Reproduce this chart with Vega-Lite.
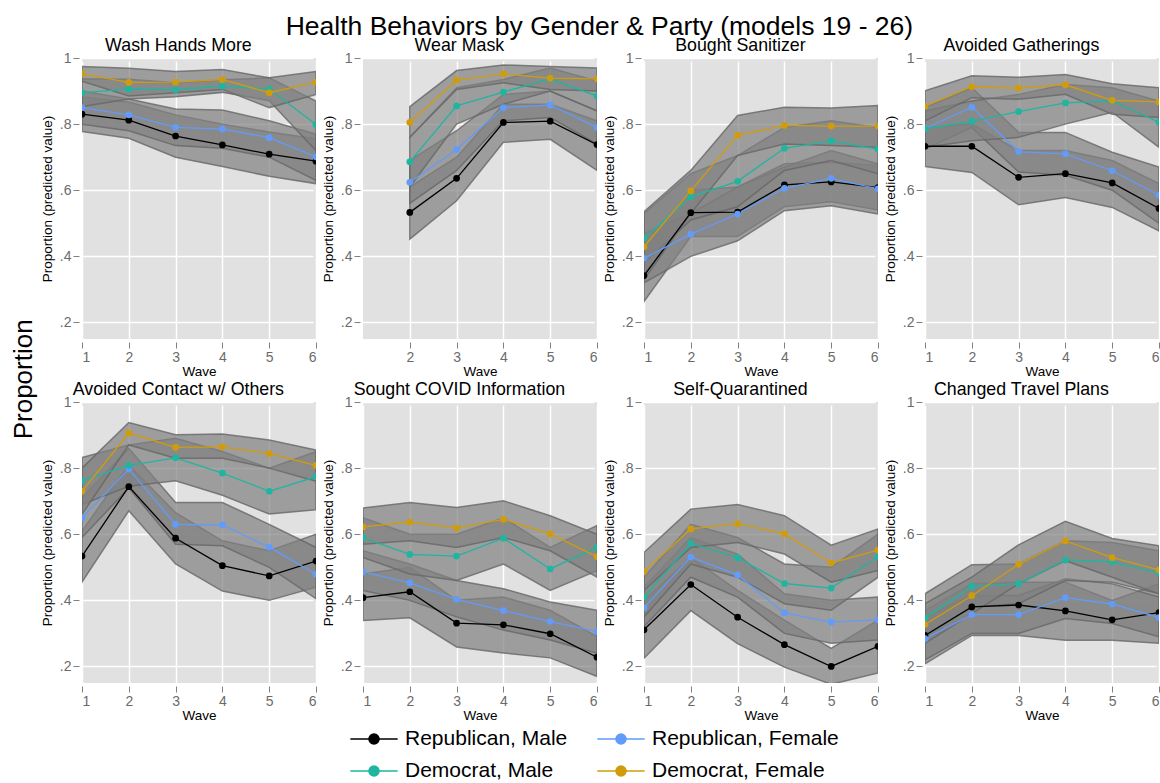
{
  "$schema": "https://vega.github.io/schema/vega-lite/v6.json",
  "padding": {"left": 11, "top": 13, "right": 0, "bottom": 0},
  "title": {"text": "Health Behaviors by Gender & Party (models 19 - 26)", "fontSize": 26.5, "anchor": "middle", "offset": -3, "dx": 14},
  "data": {"values": [
    {"p":"Wash Hands More","g":"Republican, Male","w":1,"e":0.830,"l":0.778,"h":0.882},
    {"p":"Wash Hands More","g":"Republican, Male","w":2,"e":0.812,"l":0.757,"h":0.867},
    {"p":"Wash Hands More","g":"Republican, Male","w":3,"e":0.764,"l":0.700,"h":0.828},
    {"p":"Wash Hands More","g":"Republican, Male","w":4,"e":0.737,"l":0.672,"h":0.800},
    {"p":"Wash Hands More","g":"Republican, Male","w":5,"e":0.709,"l":0.642,"h":0.776},
    {"p":"Wash Hands More","g":"Republican, Male","w":6,"e":0.688,"l":0.620,"h":0.756},
    {"p":"Wash Hands More","g":"Republican, Female","w":1,"e":0.850,"l":0.800,"h":0.900},
    {"p":"Wash Hands More","g":"Republican, Female","w":2,"e":0.828,"l":0.780,"h":0.876},
    {"p":"Wash Hands More","g":"Republican, Female","w":3,"e":0.790,"l":0.735,"h":0.846},
    {"p":"Wash Hands More","g":"Republican, Female","w":4,"e":0.785,"l":0.727,"h":0.843},
    {"p":"Wash Hands More","g":"Republican, Female","w":5,"e":0.759,"l":0.700,"h":0.810},
    {"p":"Wash Hands More","g":"Republican, Female","w":6,"e":0.701,"l":0.630,"h":0.770},
    {"p":"Wash Hands More","g":"Democrat, Male","w":1,"e":0.895,"l":0.853,"h":0.937},
    {"p":"Wash Hands More","g":"Democrat, Male","w":2,"e":0.906,"l":0.876,"h":0.936},
    {"p":"Wash Hands More","g":"Democrat, Male","w":3,"e":0.904,"l":0.883,"h":0.925},
    {"p":"Wash Hands More","g":"Democrat, Male","w":4,"e":0.915,"l":0.896,"h":0.934},
    {"p":"Wash Hands More","g":"Democrat, Male","w":5,"e":0.906,"l":0.871,"h":0.940},
    {"p":"Wash Hands More","g":"Democrat, Male","w":6,"e":0.799,"l":0.720,"h":0.870},
    {"p":"Wash Hands More","g":"Democrat, Female","w":1,"e":0.952,"l":0.930,"h":0.974},
    {"p":"Wash Hands More","g":"Democrat, Female","w":2,"e":0.926,"l":0.885,"h":0.969},
    {"p":"Wash Hands More","g":"Democrat, Female","w":3,"e":0.927,"l":0.895,"h":0.959},
    {"p":"Wash Hands More","g":"Democrat, Female","w":4,"e":0.935,"l":0.905,"h":0.965},
    {"p":"Wash Hands More","g":"Democrat, Female","w":5,"e":0.895,"l":0.850,"h":0.940},
    {"p":"Wash Hands More","g":"Democrat, Female","w":6,"e":0.927,"l":0.890,"h":0.959},

    {"p":"Wear Mask","g":"Republican, Male","w":2,"e":0.533,"l":0.452,"h":0.610},
    {"p":"Wear Mask","g":"Republican, Male","w":3,"e":0.636,"l":0.568,"h":0.700},
    {"p":"Wear Mask","g":"Republican, Male","w":4,"e":0.805,"l":0.745,"h":0.860},
    {"p":"Wear Mask","g":"Republican, Male","w":5,"e":0.809,"l":0.754,"h":0.860},
    {"p":"Wear Mask","g":"Republican, Male","w":6,"e":0.738,"l":0.660,"h":0.810},
    {"p":"Wear Mask","g":"Republican, Female","w":2,"e":0.624,"l":0.560,"h":0.690},
    {"p":"Wear Mask","g":"Republican, Female","w":3,"e":0.723,"l":0.660,"h":0.780},
    {"p":"Wear Mask","g":"Republican, Female","w":4,"e":0.850,"l":0.810,"h":0.890},
    {"p":"Wear Mask","g":"Republican, Female","w":5,"e":0.858,"l":0.820,"h":0.900},
    {"p":"Wear Mask","g":"Republican, Female","w":6,"e":0.790,"l":0.740,"h":0.840},
    {"p":"Wear Mask","g":"Democrat, Male","w":2,"e":0.686,"l":0.610,"h":0.760},
    {"p":"Wear Mask","g":"Democrat, Male","w":3,"e":0.855,"l":0.800,"h":0.910},
    {"p":"Wear Mask","g":"Democrat, Male","w":4,"e":0.897,"l":0.860,"h":0.935},
    {"p":"Wear Mask","g":"Democrat, Male","w":5,"e":0.937,"l":0.900,"h":0.970},
    {"p":"Wear Mask","g":"Democrat, Male","w":6,"e":0.885,"l":0.840,"h":0.930},
    {"p":"Wear Mask","g":"Democrat, Female","w":2,"e":0.805,"l":0.760,"h":0.853},
    {"p":"Wear Mask","g":"Democrat, Female","w":3,"e":0.933,"l":0.905,"h":0.962},
    {"p":"Wear Mask","g":"Democrat, Female","w":4,"e":0.952,"l":0.925,"h":0.979},
    {"p":"Wear Mask","g":"Democrat, Female","w":5,"e":0.939,"l":0.905,"h":0.974},
    {"p":"Wear Mask","g":"Democrat, Female","w":6,"e":0.937,"l":0.900,"h":0.970},

    {"p":"Bought Sanitizer","g":"Republican, Male","w":1,"e":0.342,"l":0.263,"h":0.420},
    {"p":"Bought Sanitizer","g":"Republican, Male","w":2,"e":0.532,"l":0.460,"h":0.600},
    {"p":"Bought Sanitizer","g":"Republican, Male","w":3,"e":0.534,"l":0.460,"h":0.610},
    {"p":"Bought Sanitizer","g":"Republican, Male","w":4,"e":0.616,"l":0.550,"h":0.680},
    {"p":"Bought Sanitizer","g":"Republican, Male","w":5,"e":0.625,"l":0.565,"h":0.685},
    {"p":"Bought Sanitizer","g":"Republican, Male","w":6,"e":0.608,"l":0.540,"h":0.675},
    {"p":"Bought Sanitizer","g":"Republican, Female","w":1,"e":0.394,"l":0.320,"h":0.470},
    {"p":"Bought Sanitizer","g":"Republican, Female","w":2,"e":0.467,"l":0.400,"h":0.530},
    {"p":"Bought Sanitizer","g":"Republican, Female","w":3,"e":0.528,"l":0.447,"h":0.610},
    {"p":"Bought Sanitizer","g":"Republican, Female","w":4,"e":0.606,"l":0.538,"h":0.670},
    {"p":"Bought Sanitizer","g":"Republican, Female","w":5,"e":0.636,"l":0.553,"h":0.720},
    {"p":"Bought Sanitizer","g":"Republican, Female","w":6,"e":0.604,"l":0.528,"h":0.680},
    {"p":"Bought Sanitizer","g":"Democrat, Male","w":1,"e":0.455,"l":0.380,"h":0.530},
    {"p":"Bought Sanitizer","g":"Democrat, Male","w":2,"e":0.580,"l":0.510,"h":0.650},
    {"p":"Bought Sanitizer","g":"Democrat, Male","w":3,"e":0.627,"l":0.550,"h":0.705},
    {"p":"Bought Sanitizer","g":"Democrat, Male","w":4,"e":0.727,"l":0.660,"h":0.790},
    {"p":"Bought Sanitizer","g":"Democrat, Male","w":5,"e":0.749,"l":0.690,"h":0.810},
    {"p":"Bought Sanitizer","g":"Democrat, Male","w":6,"e":0.724,"l":0.650,"h":0.790},
    {"p":"Bought Sanitizer","g":"Democrat, Female","w":1,"e":0.429,"l":0.330,"h":0.535},
    {"p":"Bought Sanitizer","g":"Democrat, Female","w":2,"e":0.598,"l":0.530,"h":0.660},
    {"p":"Bought Sanitizer","g":"Democrat, Female","w":3,"e":0.766,"l":0.705,"h":0.826},
    {"p":"Bought Sanitizer","g":"Democrat, Female","w":4,"e":0.796,"l":0.740,"h":0.851},
    {"p":"Bought Sanitizer","g":"Democrat, Female","w":5,"e":0.794,"l":0.735,"h":0.849},
    {"p":"Bought Sanitizer","g":"Democrat, Female","w":6,"e":0.794,"l":0.730,"h":0.856},

    {"p":"Avoided Gatherings","g":"Republican, Male","w":1,"e":0.733,"l":0.672,"h":0.790},
    {"p":"Avoided Gatherings","g":"Republican, Male","w":2,"e":0.733,"l":0.654,"h":0.800},
    {"p":"Avoided Gatherings","g":"Republican, Male","w":3,"e":0.639,"l":0.556,"h":0.720},
    {"p":"Avoided Gatherings","g":"Republican, Male","w":4,"e":0.650,"l":0.578,"h":0.720},
    {"p":"Avoided Gatherings","g":"Republican, Male","w":5,"e":0.622,"l":0.548,"h":0.690},
    {"p":"Avoided Gatherings","g":"Republican, Male","w":6,"e":0.545,"l":0.477,"h":0.620},
    {"p":"Avoided Gatherings","g":"Republican, Female","w":1,"e":0.787,"l":0.725,"h":0.850},
    {"p":"Avoided Gatherings","g":"Republican, Female","w":2,"e":0.851,"l":0.790,"h":0.910},
    {"p":"Avoided Gatherings","g":"Republican, Female","w":3,"e":0.717,"l":0.655,"h":0.775},
    {"p":"Avoided Gatherings","g":"Republican, Female","w":4,"e":0.710,"l":0.645,"h":0.775},
    {"p":"Avoided Gatherings","g":"Republican, Female","w":5,"e":0.659,"l":0.600,"h":0.715},
    {"p":"Avoided Gatherings","g":"Republican, Female","w":6,"e":0.585,"l":0.500,"h":0.670},
    {"p":"Avoided Gatherings","g":"Democrat, Male","w":1,"e":0.786,"l":0.730,"h":0.840},
    {"p":"Avoided Gatherings","g":"Democrat, Male","w":2,"e":0.808,"l":0.750,"h":0.870},
    {"p":"Avoided Gatherings","g":"Democrat, Male","w":3,"e":0.838,"l":0.760,"h":0.890},
    {"p":"Avoided Gatherings","g":"Democrat, Male","w":4,"e":0.864,"l":0.800,"h":0.920},
    {"p":"Avoided Gatherings","g":"Democrat, Male","w":5,"e":0.870,"l":0.836,"h":0.910},
    {"p":"Avoided Gatherings","g":"Democrat, Male","w":6,"e":0.806,"l":0.730,"h":0.870},
    {"p":"Avoided Gatherings","g":"Democrat, Female","w":1,"e":0.854,"l":0.810,"h":0.901},
    {"p":"Avoided Gatherings","g":"Democrat, Female","w":2,"e":0.913,"l":0.880,"h":0.946},
    {"p":"Avoided Gatherings","g":"Democrat, Female","w":3,"e":0.909,"l":0.875,"h":0.942},
    {"p":"Avoided Gatherings","g":"Democrat, Female","w":4,"e":0.919,"l":0.890,"h":0.950},
    {"p":"Avoided Gatherings","g":"Democrat, Female","w":5,"e":0.872,"l":0.830,"h":0.922},
    {"p":"Avoided Gatherings","g":"Democrat, Female","w":6,"e":0.867,"l":0.820,"h":0.910},

    {"p":"Avoided Contact w/ Others","g":"Republican, Male","w":1,"e":0.534,"l":0.455,"h":0.610},
    {"p":"Avoided Contact w/ Others","g":"Republican, Male","w":2,"e":0.744,"l":0.671,"h":0.810},
    {"p":"Avoided Contact w/ Others","g":"Republican, Male","w":3,"e":0.588,"l":0.510,"h":0.665},
    {"p":"Avoided Contact w/ Others","g":"Republican, Male","w":4,"e":0.505,"l":0.428,"h":0.580},
    {"p":"Avoided Contact w/ Others","g":"Republican, Male","w":5,"e":0.474,"l":0.400,"h":0.550},
    {"p":"Avoided Contact w/ Others","g":"Republican, Male","w":6,"e":0.519,"l":0.440,"h":0.600},
    {"p":"Avoided Contact w/ Others","g":"Republican, Female","w":1,"e":0.650,"l":0.590,"h":0.710},
    {"p":"Avoided Contact w/ Others","g":"Republican, Female","w":2,"e":0.797,"l":0.740,"h":0.860},
    {"p":"Avoided Contact w/ Others","g":"Republican, Female","w":3,"e":0.630,"l":0.570,"h":0.696},
    {"p":"Avoided Contact w/ Others","g":"Republican, Female","w":4,"e":0.628,"l":0.565,"h":0.696},
    {"p":"Avoided Contact w/ Others","g":"Republican, Female","w":5,"e":0.561,"l":0.500,"h":0.630},
    {"p":"Avoided Contact w/ Others","g":"Republican, Female","w":6,"e":0.479,"l":0.405,"h":0.560},
    {"p":"Avoided Contact w/ Others","g":"Democrat, Male","w":1,"e":0.762,"l":0.690,"h":0.832},
    {"p":"Avoided Contact w/ Others","g":"Democrat, Male","w":2,"e":0.808,"l":0.745,"h":0.870},
    {"p":"Avoided Contact w/ Others","g":"Democrat, Male","w":3,"e":0.831,"l":0.762,"h":0.890},
    {"p":"Avoided Contact w/ Others","g":"Democrat, Male","w":4,"e":0.785,"l":0.718,"h":0.850},
    {"p":"Avoided Contact w/ Others","g":"Democrat, Male","w":5,"e":0.730,"l":0.661,"h":0.800},
    {"p":"Avoided Contact w/ Others","g":"Democrat, Male","w":6,"e":0.774,"l":0.674,"h":0.850},
    {"p":"Avoided Contact w/ Others","g":"Democrat, Female","w":1,"e":0.730,"l":0.660,"h":0.800},
    {"p":"Avoided Contact w/ Others","g":"Democrat, Female","w":2,"e":0.906,"l":0.870,"h":0.938},
    {"p":"Avoided Contact w/ Others","g":"Democrat, Female","w":3,"e":0.863,"l":0.830,"h":0.901},
    {"p":"Avoided Contact w/ Others","g":"Democrat, Female","w":4,"e":0.864,"l":0.830,"h":0.903},
    {"p":"Avoided Contact w/ Others","g":"Democrat, Female","w":5,"e":0.844,"l":0.800,"h":0.885},
    {"p":"Avoided Contact w/ Others","g":"Democrat, Female","w":6,"e":0.808,"l":0.760,"h":0.855},

    {"p":"Sought COVID Information","g":"Republican, Male","w":1,"e":0.408,"l":0.339,"h":0.480},
    {"p":"Sought COVID Information","g":"Republican, Male","w":2,"e":0.426,"l":0.347,"h":0.500},
    {"p":"Sought COVID Information","g":"Republican, Male","w":3,"e":0.331,"l":0.259,"h":0.400},
    {"p":"Sought COVID Information","g":"Republican, Male","w":4,"e":0.326,"l":0.241,"h":0.410},
    {"p":"Sought COVID Information","g":"Republican, Male","w":5,"e":0.299,"l":0.226,"h":0.370},
    {"p":"Sought COVID Information","g":"Republican, Male","w":6,"e":0.228,"l":0.170,"h":0.290},
    {"p":"Sought COVID Information","g":"Republican, Female","w":1,"e":0.486,"l":0.430,"h":0.550},
    {"p":"Sought COVID Information","g":"Republican, Female","w":2,"e":0.453,"l":0.400,"h":0.510},
    {"p":"Sought COVID Information","g":"Republican, Female","w":3,"e":0.403,"l":0.350,"h":0.460},
    {"p":"Sought COVID Information","g":"Republican, Female","w":4,"e":0.369,"l":0.310,"h":0.435},
    {"p":"Sought COVID Information","g":"Republican, Female","w":5,"e":0.336,"l":0.280,"h":0.395},
    {"p":"Sought COVID Information","g":"Republican, Female","w":6,"e":0.306,"l":0.240,"h":0.370},
    {"p":"Sought COVID Information","g":"Democrat, Male","w":1,"e":0.589,"l":0.530,"h":0.650},
    {"p":"Sought COVID Information","g":"Democrat, Male","w":2,"e":0.539,"l":0.480,"h":0.600},
    {"p":"Sought COVID Information","g":"Democrat, Male","w":3,"e":0.534,"l":0.460,"h":0.600},
    {"p":"Sought COVID Information","g":"Democrat, Male","w":4,"e":0.588,"l":0.510,"h":0.650},
    {"p":"Sought COVID Information","g":"Democrat, Male","w":5,"e":0.495,"l":0.430,"h":0.560},
    {"p":"Sought COVID Information","g":"Democrat, Male","w":6,"e":0.560,"l":0.490,"h":0.626},
    {"p":"Sought COVID Information","g":"Democrat, Female","w":1,"e":0.622,"l":0.570,"h":0.679},
    {"p":"Sought COVID Information","g":"Democrat, Female","w":2,"e":0.637,"l":0.580,"h":0.696},
    {"p":"Sought COVID Information","g":"Democrat, Female","w":3,"e":0.619,"l":0.560,"h":0.681},
    {"p":"Sought COVID Information","g":"Democrat, Female","w":4,"e":0.645,"l":0.590,"h":0.701},
    {"p":"Sought COVID Information","g":"Democrat, Female","w":5,"e":0.601,"l":0.550,"h":0.656},
    {"p":"Sought COVID Information","g":"Democrat, Female","w":6,"e":0.532,"l":0.470,"h":0.600},

    {"p":"Self-Quarantined","g":"Republican, Male","w":1,"e":0.311,"l":0.225,"h":0.400},
    {"p":"Self-Quarantined","g":"Republican, Male","w":2,"e":0.448,"l":0.369,"h":0.530},
    {"p":"Self-Quarantined","g":"Republican, Male","w":3,"e":0.349,"l":0.269,"h":0.430},
    {"p":"Self-Quarantined","g":"Republican, Male","w":4,"e":0.266,"l":0.198,"h":0.340},
    {"p":"Self-Quarantined","g":"Republican, Male","w":5,"e":0.200,"l":0.146,"h":0.255},
    {"p":"Self-Quarantined","g":"Republican, Male","w":6,"e":0.261,"l":0.180,"h":0.340},
    {"p":"Self-Quarantined","g":"Republican, Female","w":1,"e":0.378,"l":0.320,"h":0.440},
    {"p":"Self-Quarantined","g":"Republican, Female","w":2,"e":0.531,"l":0.470,"h":0.590},
    {"p":"Self-Quarantined","g":"Republican, Female","w":3,"e":0.477,"l":0.410,"h":0.540},
    {"p":"Self-Quarantined","g":"Republican, Female","w":4,"e":0.362,"l":0.300,"h":0.420},
    {"p":"Self-Quarantined","g":"Republican, Female","w":5,"e":0.334,"l":0.270,"h":0.400},
    {"p":"Self-Quarantined","g":"Republican, Female","w":6,"e":0.341,"l":0.280,"h":0.410},
    {"p":"Self-Quarantined","g":"Democrat, Male","w":1,"e":0.410,"l":0.350,"h":0.470},
    {"p":"Self-Quarantined","g":"Democrat, Male","w":2,"e":0.572,"l":0.510,"h":0.630},
    {"p":"Self-Quarantined","g":"Democrat, Male","w":3,"e":0.529,"l":0.470,"h":0.590},
    {"p":"Self-Quarantined","g":"Democrat, Male","w":4,"e":0.451,"l":0.390,"h":0.510},
    {"p":"Self-Quarantined","g":"Democrat, Male","w":5,"e":0.437,"l":0.370,"h":0.500},
    {"p":"Self-Quarantined","g":"Democrat, Male","w":6,"e":0.532,"l":0.470,"h":0.600},
    {"p":"Self-Quarantined","g":"Democrat, Female","w":1,"e":0.487,"l":0.430,"h":0.545},
    {"p":"Self-Quarantined","g":"Democrat, Female","w":2,"e":0.616,"l":0.560,"h":0.676},
    {"p":"Self-Quarantined","g":"Democrat, Female","w":3,"e":0.632,"l":0.575,"h":0.690},
    {"p":"Self-Quarantined","g":"Democrat, Female","w":4,"e":0.601,"l":0.540,"h":0.656},
    {"p":"Self-Quarantined","g":"Democrat, Female","w":5,"e":0.513,"l":0.455,"h":0.567},
    {"p":"Self-Quarantined","g":"Democrat, Female","w":6,"e":0.552,"l":0.490,"h":0.616},

    {"p":"Changed Travel Plans","g":"Republican, Male","w":1,"e":0.294,"l":0.208,"h":0.370},
    {"p":"Changed Travel Plans","g":"Republican, Male","w":2,"e":0.380,"l":0.294,"h":0.450},
    {"p":"Changed Travel Plans","g":"Republican, Male","w":3,"e":0.386,"l":0.294,"h":0.455},
    {"p":"Changed Travel Plans","g":"Republican, Male","w":4,"e":0.368,"l":0.279,"h":0.455},
    {"p":"Changed Travel Plans","g":"Republican, Male","w":5,"e":0.341,"l":0.279,"h":0.400},
    {"p":"Changed Travel Plans","g":"Republican, Male","w":6,"e":0.363,"l":0.270,"h":0.450},
    {"p":"Changed Travel Plans","g":"Republican, Female","w":1,"e":0.284,"l":0.220,"h":0.350},
    {"p":"Changed Travel Plans","g":"Republican, Female","w":2,"e":0.357,"l":0.300,"h":0.415},
    {"p":"Changed Travel Plans","g":"Republican, Female","w":3,"e":0.357,"l":0.300,"h":0.415},
    {"p":"Changed Travel Plans","g":"Republican, Female","w":4,"e":0.408,"l":0.345,"h":0.465},
    {"p":"Changed Travel Plans","g":"Republican, Female","w":5,"e":0.389,"l":0.330,"h":0.450},
    {"p":"Changed Travel Plans","g":"Republican, Female","w":6,"e":0.348,"l":0.290,"h":0.410},
    {"p":"Changed Travel Plans","g":"Democrat, Male","w":1,"e":0.347,"l":0.290,"h":0.420},
    {"p":"Changed Travel Plans","g":"Democrat, Male","w":2,"e":0.442,"l":0.380,"h":0.508},
    {"p":"Changed Travel Plans","g":"Democrat, Male","w":3,"e":0.450,"l":0.390,"h":0.510},
    {"p":"Changed Travel Plans","g":"Democrat, Male","w":4,"e":0.522,"l":0.460,"h":0.580},
    {"p":"Changed Travel Plans","g":"Democrat, Male","w":5,"e":0.516,"l":0.455,"h":0.575},
    {"p":"Changed Travel Plans","g":"Democrat, Male","w":6,"e":0.483,"l":0.420,"h":0.550},
    {"p":"Changed Travel Plans","g":"Democrat, Female","w":1,"e":0.327,"l":0.270,"h":0.390},
    {"p":"Changed Travel Plans","g":"Democrat, Female","w":2,"e":0.414,"l":0.360,"h":0.470},
    {"p":"Changed Travel Plans","g":"Democrat, Female","w":3,"e":0.509,"l":0.450,"h":0.568},
    {"p":"Changed Travel Plans","g":"Democrat, Female","w":4,"e":0.580,"l":0.520,"h":0.639},
    {"p":"Changed Travel Plans","g":"Democrat, Female","w":5,"e":0.529,"l":0.470,"h":0.587},
    {"p":"Changed Travel Plans","g":"Democrat, Female","w":6,"e":0.492,"l":0.420,"h":0.565}
  ]},
  "vconcat": [{
    "title": {"text": "Proportion", "orient": "left", "fontSize": 26, "anchor": "middle", "offset": 3},
    "bounds": "flush",
    "columns": 4,
    "spacing": {"row": 63, "column": 47},
    "concat": [
      {"title": "Wash Hands More", "width": 234, "height": 281,
       "transform": [{"filter": {"field": "p", "equal": "Wash Hands More"}}],
       "encoding": {
         "x": {"field": "w", "type": "quantitative", "scale": {"domain": [1, 6]}, "axis": {"values": [1,2,3,4,5,6], "title": "Wave"}},
         "y": {"field": "e", "type": "quantitative", "scale": {"domain": [0.15, 1]}, "axis": {"values": [0.2,0.4,0.6,0.8,1], "title": "Proportion (predicted value)"}},
         "color": {"field": "g", "type": "nominal", "title": null, "scale": {"domain": ["Republican, Male","Republican, Female","Democrat, Male","Democrat, Female"], "range": ["#000000","#629bf8","#1fb5a0","#d19c0c"]}, "legend": {"symbolType": "M-2.15,0H2.15M-0.46,0A0.46,0.46,0,1,1,0.46,0A0.46,0.46,0,1,1,-0.46,0Z", "orient": "none", "direction": "horizontal", "legendX": 280, "legendY": 669}}
       },
       "layer": [
         {"mark": {"type": "area", "clip": true, "fillOpacity": 0.7, "stroke": "#666666", "strokeOpacity": 0.8, "strokeWidth": 1.5},
          "encoding": {"y": {"field": "l", "type": "quantitative", "scale": {"domain": [0.15, 1]}, "axis": {"values": [0.2,0.4,0.6,0.8,1], "title": "Proportion (predicted value)"}}, "y2": {"field": "h"}, "color": {"value": "#808080"}, "detail": {"field": "g"}}},
         {"mark": {"type": "line", "clip": true, "strokeWidth": 1.3}, "encoding": {}},
         {"mark": {"type": "point", "filled": true, "clip": true, "size": 45, "opacity": 1}, "encoding": {}}
       ]},
      {"title": "Wear Mask", "width": 234, "height": 281,
       "transform": [{"filter": {"field": "p", "equal": "Wear Mask"}}],
       "encoding": {
         "x": {"field": "w", "type": "quantitative", "scale": {"domain": [1, 6]}, "axis": {"values": [2,3,4,5,6], "title": "Wave"}},
         "y": {"field": "e", "type": "quantitative", "scale": {"domain": [0.15, 1]}, "axis": {"values": [0.2,0.4,0.6,0.8,1], "title": "Proportion (predicted value)"}},
         "color": {"field": "g", "type": "nominal", "title": null, "scale": {"domain": ["Republican, Male","Republican, Female","Democrat, Male","Democrat, Female"], "range": ["#000000","#629bf8","#1fb5a0","#d19c0c"]}, "legend": {"symbolType": "M-2.15,0H2.15M-0.46,0A0.46,0.46,0,1,1,0.46,0A0.46,0.46,0,1,1,-0.46,0Z", "orient": "none", "direction": "horizontal", "legendX": 280, "legendY": 669}}
       },
       "layer": [
         {"mark": {"type": "area", "clip": true, "fillOpacity": 0.7, "stroke": "#666666", "strokeOpacity": 0.8, "strokeWidth": 1.5},
          "encoding": {"y": {"field": "l", "type": "quantitative", "scale": {"domain": [0.15, 1]}, "axis": {"values": [0.2,0.4,0.6,0.8,1], "title": "Proportion (predicted value)"}}, "y2": {"field": "h"}, "color": {"value": "#808080"}, "detail": {"field": "g"}}},
         {"mark": {"type": "line", "clip": true, "strokeWidth": 1.3}, "encoding": {}},
         {"mark": {"type": "point", "filled": true, "clip": true, "size": 45, "opacity": 1}, "encoding": {}}
       ]},
      {"title": "Bought Sanitizer", "width": 234, "height": 281,
       "transform": [{"filter": {"field": "p", "equal": "Bought Sanitizer"}}],
       "encoding": {
         "x": {"field": "w", "type": "quantitative", "scale": {"domain": [1, 6]}, "axis": {"values": [1,2,3,4,5,6], "title": "Wave"}},
         "y": {"field": "e", "type": "quantitative", "scale": {"domain": [0.15, 1]}, "axis": {"values": [0.2,0.4,0.6,0.8,1], "title": "Proportion (predicted value)"}},
         "color": {"field": "g", "type": "nominal", "title": null, "scale": {"domain": ["Republican, Male","Republican, Female","Democrat, Male","Democrat, Female"], "range": ["#000000","#629bf8","#1fb5a0","#d19c0c"]}, "legend": {"symbolType": "M-2.15,0H2.15M-0.46,0A0.46,0.46,0,1,1,0.46,0A0.46,0.46,0,1,1,-0.46,0Z", "orient": "none", "direction": "horizontal", "legendX": 280, "legendY": 669}}
       },
       "layer": [
         {"mark": {"type": "area", "clip": true, "fillOpacity": 0.7, "stroke": "#666666", "strokeOpacity": 0.8, "strokeWidth": 1.5},
          "encoding": {"y": {"field": "l", "type": "quantitative", "scale": {"domain": [0.15, 1]}, "axis": {"values": [0.2,0.4,0.6,0.8,1], "title": "Proportion (predicted value)"}}, "y2": {"field": "h"}, "color": {"value": "#808080"}, "detail": {"field": "g"}}},
         {"mark": {"type": "line", "clip": true, "strokeWidth": 1.3}, "encoding": {}},
         {"mark": {"type": "point", "filled": true, "clip": true, "size": 45, "opacity": 1}, "encoding": {}}
       ]},
      {"title": "Avoided Gatherings", "width": 234, "height": 281,
       "transform": [{"filter": {"field": "p", "equal": "Avoided Gatherings"}}],
       "encoding": {
         "x": {"field": "w", "type": "quantitative", "scale": {"domain": [1, 6]}, "axis": {"values": [1,2,3,4,5,6], "title": "Wave"}},
         "y": {"field": "e", "type": "quantitative", "scale": {"domain": [0.15, 1]}, "axis": {"values": [0.2,0.4,0.6,0.8,1], "title": "Proportion (predicted value)"}},
         "color": {"field": "g", "type": "nominal", "title": null, "scale": {"domain": ["Republican, Male","Republican, Female","Democrat, Male","Democrat, Female"], "range": ["#000000","#629bf8","#1fb5a0","#d19c0c"]}, "legend": {"symbolType": "M-2.15,0H2.15M-0.46,0A0.46,0.46,0,1,1,0.46,0A0.46,0.46,0,1,1,-0.46,0Z", "orient": "none", "direction": "horizontal", "legendX": 280, "legendY": 669}}
       },
       "layer": [
         {"mark": {"type": "area", "clip": true, "fillOpacity": 0.7, "stroke": "#666666", "strokeOpacity": 0.8, "strokeWidth": 1.5},
          "encoding": {"y": {"field": "l", "type": "quantitative", "scale": {"domain": [0.15, 1]}, "axis": {"values": [0.2,0.4,0.6,0.8,1], "title": "Proportion (predicted value)"}}, "y2": {"field": "h"}, "color": {"value": "#808080"}, "detail": {"field": "g"}}},
         {"mark": {"type": "line", "clip": true, "strokeWidth": 1.3}, "encoding": {}},
         {"mark": {"type": "point", "filled": true, "clip": true, "size": 45, "opacity": 1}, "encoding": {}}
       ]},
      {"title": "Avoided Contact w/ Others", "width": 234, "height": 281,
       "transform": [{"filter": {"field": "p", "equal": "Avoided Contact w/ Others"}}],
       "encoding": {
         "x": {"field": "w", "type": "quantitative", "scale": {"domain": [1, 6]}, "axis": {"values": [1,2,3,4,5,6], "title": "Wave"}},
         "y": {"field": "e", "type": "quantitative", "scale": {"domain": [0.15, 1]}, "axis": {"values": [0.2,0.4,0.6,0.8,1], "title": "Proportion (predicted value)"}},
         "color": {"field": "g", "type": "nominal", "title": null, "scale": {"domain": ["Republican, Male","Republican, Female","Democrat, Male","Democrat, Female"], "range": ["#000000","#629bf8","#1fb5a0","#d19c0c"]}, "legend": {"symbolType": "M-2.15,0H2.15M-0.46,0A0.46,0.46,0,1,1,0.46,0A0.46,0.46,0,1,1,-0.46,0Z", "orient": "none", "direction": "horizontal", "legendX": 280, "legendY": 669}}
       },
       "layer": [
         {"mark": {"type": "area", "clip": true, "fillOpacity": 0.7, "stroke": "#666666", "strokeOpacity": 0.8, "strokeWidth": 1.5},
          "encoding": {"y": {"field": "l", "type": "quantitative", "scale": {"domain": [0.15, 1]}, "axis": {"values": [0.2,0.4,0.6,0.8,1], "title": "Proportion (predicted value)"}}, "y2": {"field": "h"}, "color": {"value": "#808080"}, "detail": {"field": "g"}}},
         {"mark": {"type": "line", "clip": true, "strokeWidth": 1.3}, "encoding": {}},
         {"mark": {"type": "point", "filled": true, "clip": true, "size": 45, "opacity": 1}, "encoding": {}}
       ]},
      {"title": "Sought COVID Information", "width": 234, "height": 281,
       "transform": [{"filter": {"field": "p", "equal": "Sought COVID Information"}}],
       "encoding": {
         "x": {"field": "w", "type": "quantitative", "scale": {"domain": [1, 6]}, "axis": {"values": [1,2,3,4,5,6], "title": "Wave"}},
         "y": {"field": "e", "type": "quantitative", "scale": {"domain": [0.15, 1]}, "axis": {"values": [0.2,0.4,0.6,0.8,1], "title": "Proportion (predicted value)"}},
         "color": {"field": "g", "type": "nominal", "title": null, "scale": {"domain": ["Republican, Male","Republican, Female","Democrat, Male","Democrat, Female"], "range": ["#000000","#629bf8","#1fb5a0","#d19c0c"]}, "legend": {"symbolType": "M-2.15,0H2.15M-0.46,0A0.46,0.46,0,1,1,0.46,0A0.46,0.46,0,1,1,-0.46,0Z", "orient": "none", "direction": "horizontal", "legendX": 280, "legendY": 669}}
       },
       "layer": [
         {"mark": {"type": "area", "clip": true, "fillOpacity": 0.7, "stroke": "#666666", "strokeOpacity": 0.8, "strokeWidth": 1.5},
          "encoding": {"y": {"field": "l", "type": "quantitative", "scale": {"domain": [0.15, 1]}, "axis": {"values": [0.2,0.4,0.6,0.8,1], "title": "Proportion (predicted value)"}}, "y2": {"field": "h"}, "color": {"value": "#808080"}, "detail": {"field": "g"}}},
         {"mark": {"type": "line", "clip": true, "strokeWidth": 1.3}, "encoding": {}},
         {"mark": {"type": "point", "filled": true, "clip": true, "size": 45, "opacity": 1}, "encoding": {}}
       ]},
      {"title": "Self-Quarantined", "width": 234, "height": 281,
       "transform": [{"filter": {"field": "p", "equal": "Self-Quarantined"}}],
       "encoding": {
         "x": {"field": "w", "type": "quantitative", "scale": {"domain": [1, 6]}, "axis": {"values": [1,2,3,4,5,6], "title": "Wave"}},
         "y": {"field": "e", "type": "quantitative", "scale": {"domain": [0.15, 1]}, "axis": {"values": [0.2,0.4,0.6,0.8,1], "title": "Proportion (predicted value)"}},
         "color": {"field": "g", "type": "nominal", "title": null, "scale": {"domain": ["Republican, Male","Republican, Female","Democrat, Male","Democrat, Female"], "range": ["#000000","#629bf8","#1fb5a0","#d19c0c"]}, "legend": {"symbolType": "M-2.15,0H2.15M-0.46,0A0.46,0.46,0,1,1,0.46,0A0.46,0.46,0,1,1,-0.46,0Z", "orient": "none", "direction": "horizontal", "legendX": 280, "legendY": 669}}
       },
       "layer": [
         {"mark": {"type": "area", "clip": true, "fillOpacity": 0.7, "stroke": "#666666", "strokeOpacity": 0.8, "strokeWidth": 1.5},
          "encoding": {"y": {"field": "l", "type": "quantitative", "scale": {"domain": [0.15, 1]}, "axis": {"values": [0.2,0.4,0.6,0.8,1], "title": "Proportion (predicted value)"}}, "y2": {"field": "h"}, "color": {"value": "#808080"}, "detail": {"field": "g"}}},
         {"mark": {"type": "line", "clip": true, "strokeWidth": 1.3}, "encoding": {}},
         {"mark": {"type": "point", "filled": true, "clip": true, "size": 45, "opacity": 1}, "encoding": {}}
       ]},
      {"title": "Changed Travel Plans", "width": 234, "height": 281,
       "transform": [{"filter": {"field": "p", "equal": "Changed Travel Plans"}}],
       "encoding": {
         "x": {"field": "w", "type": "quantitative", "scale": {"domain": [1, 6]}, "axis": {"values": [1,2,3,4,5,6], "title": "Wave"}},
         "y": {"field": "e", "type": "quantitative", "scale": {"domain": [0.15, 1]}, "axis": {"values": [0.2,0.4,0.6,0.8,1], "title": "Proportion (predicted value)"}},
         "color": {"field": "g", "type": "nominal", "title": null, "scale": {"domain": ["Republican, Male","Republican, Female","Democrat, Male","Democrat, Female"], "range": ["#000000","#629bf8","#1fb5a0","#d19c0c"]}, "legend": {"symbolType": "M-2.15,0H2.15M-0.46,0A0.46,0.46,0,1,1,0.46,0A0.46,0.46,0,1,1,-0.46,0Z", "orient": "none", "direction": "horizontal", "legendX": 280, "legendY": 669}}
       },
       "layer": [
         {"mark": {"type": "area", "clip": true, "fillOpacity": 0.7, "stroke": "#666666", "strokeOpacity": 0.8, "strokeWidth": 1.5},
          "encoding": {"y": {"field": "l", "type": "quantitative", "scale": {"domain": [0.15, 1]}, "axis": {"values": [0.2,0.4,0.6,0.8,1], "title": "Proportion (predicted value)"}}, "y2": {"field": "h"}, "color": {"value": "#808080"}, "detail": {"field": "g"}}},
         {"mark": {"type": "line", "clip": true, "strokeWidth": 1.3}, "encoding": {}},
         {"mark": {"type": "point", "filled": true, "clip": true, "size": 45, "opacity": 1}, "encoding": {}}
       ]}
    ]
  }],
  "config": {
    "font": "Liberation Sans",
    "view": {"fill": "#e1e1e1", "stroke": null},
    "axis": {"labelFont": "Liberation Sans", "titleFont": "Liberation Sans", "labelFontSize": 14, "labelColor": "#6b6b6b", "titleFontSize": 13.5, "titleFontWeight": "normal", "titleColor": "#000000", "tickColor": "#808080", "tickSize": 6, "tickWidth": 1, "domain": false, "grid": true, "gridColor": "#ffffff", "gridWidth": 1.5, "offset": 3, "labelPadding": 2},
    "axisX": {"titlePadding": 0, "format": "d"},
    "axisY": {"titlePadding": 5, "labelExpr": "datum.value >= 1 ? '1' : replace(format(datum.value, '.1f'), '0.', '.')"},
    "title": {"font": "Liberation Sans", "fontWeight": "normal", "color": "#000000", "fontSize": 17.8, "frame": "bounds", "offset": -4},
    "legend": {"columns": 2, "symbolSize": 484, "symbolStrokeWidth": 1.5, "labelFontSize": 21, "labelFont": "Liberation Sans", "labelColor": "#000000", "labelLimit": 400, "columnPadding": 26, "rowPadding": 10, "labelOffset": 19, "padding": 0}
  }
}
